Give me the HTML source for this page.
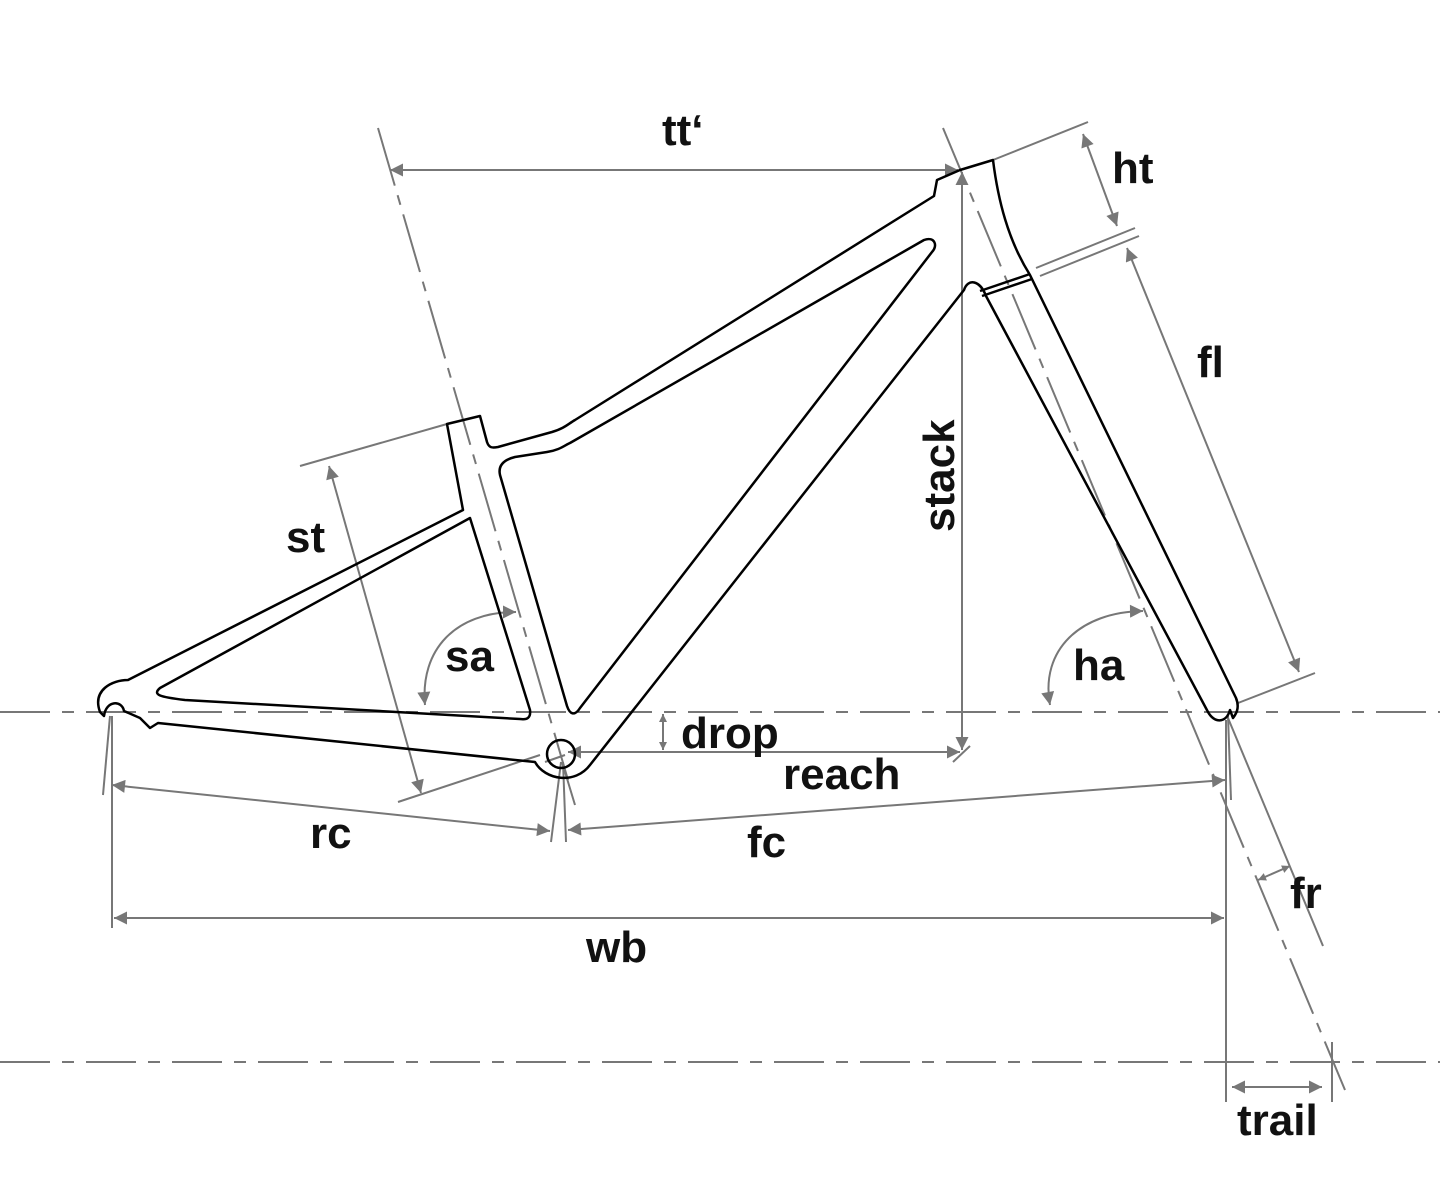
<!DOCTYPE html>
<html><head><style>
html,body{margin:0;padding:0;background:#fff;}
svg{display:block;}
text{font-family:"Liberation Sans",sans-serif;font-weight:bold;font-size:44px;fill:#111;}
</style></head><body>
<svg width="1440" height="1200" viewBox="0 0 1440 1200" xmlns="http://www.w3.org/2000/svg">
<defs>
<marker id="a" viewBox="0 0 10 10" refX="10" refY="5" markerWidth="10" markerHeight="8" orient="auto-start-reverse" markerUnits="userSpaceOnUse"><path d="M0,0 L10,5 L0,10 Z" fill="#777"/></marker>
<marker id="b" viewBox="0 0 10 10" refX="10" refY="5" markerWidth="20" markerHeight="13" orient="auto-start-reverse" markerUnits="userSpaceOnUse"><path d="M0,0 L10,5 L0,10 Z" fill="#777"/></marker>
</defs>
<g stroke="#777" stroke-width="2" fill="none">
<line x1="0" y1="712" x2="1440" y2="712" stroke-dasharray="50,12,12,12"/>
<line x1="0" y1="1062" x2="1440" y2="1062" stroke-dasharray="50,12,12,12"/>
<line x1="378" y1="128" x2="568" y2="780" stroke-dasharray="60,10,10,10"/>
<line x1="943" y1="128" x2="1345" y2="1090" stroke-dasharray="60,10,10,10"/>
<line x1="390" y1="170" x2="958" y2="170" marker-start="url(#b)" marker-end="url(#b)"/>
<line x1="962" y1="172" x2="962" y2="750" marker-start="url(#b)" marker-end="url(#b)"/>
<line x1="568" y1="752" x2="960" y2="752" marker-start="url(#b)" marker-end="url(#b)"/>
<line x1="953" y1="762" x2="970" y2="746"/>
<line x1="663" y1="714" x2="663" y2="750" marker-start="url(#a)" marker-end="url(#a)"/>
<line x1="993" y1="160" x2="1088" y2="122"/>
<line x1="1036" y1="268" x2="1135" y2="228"/>
<line x1="1040" y1="276" x2="1139" y2="236"/>
<line x1="1083" y1="134" x2="1117" y2="226" marker-start="url(#b)" marker-end="url(#b)"/>
<line x1="1127" y1="248" x2="1299" y2="672" marker-start="url(#b)" marker-end="url(#b)"/>
<line x1="1238" y1="703" x2="1315" y2="673"/>
<line x1="300" y1="466" x2="447" y2="424"/>
<line x1="398" y1="802" x2="540" y2="755"/>
<line x1="329" y1="466" x2="421" y2="793" marker-start="url(#b)" marker-end="url(#b)"/>
<path d="M516 612 C455 612 420 650 425 705" marker-start="url(#b)" marker-end="url(#b)"/>
<path d="M1143 611 C1080 612 1040 650 1050 705" marker-start="url(#b)" marker-end="url(#b)"/>
<line x1="110" y1="716" x2="103" y2="795"/>
<line x1="112" y1="716" x2="112" y2="928"/>
<line x1="561" y1="762" x2="551" y2="842"/>
<line x1="563" y1="762" x2="566" y2="842"/>
<line x1="562" y1="762" x2="575" y2="805"/>
<line x1="112" y1="785" x2="550" y2="831" marker-start="url(#b)" marker-end="url(#b)"/>
<line x1="568" y1="830" x2="1225" y2="780" marker-start="url(#b)" marker-end="url(#b)"/>
<line x1="114" y1="918" x2="1224" y2="918" marker-start="url(#b)" marker-end="url(#b)"/>
<line x1="1226" y1="720" x2="1226" y2="1102"/>
<line x1="1228" y1="716" x2="1231" y2="800"/>
<line x1="1228" y1="718" x2="1323" y2="946"/>
<line x1="1258" y1="880" x2="1290" y2="866" marker-start="url(#a)" marker-end="url(#a)"/>
<line x1="1332" y1="1042" x2="1332" y2="1102"/>
<line x1="1232" y1="1087" x2="1322" y2="1087" marker-start="url(#b)" marker-end="url(#b)"/>
<line x1="545" y1="762" x2="565" y2="755"/>
</g>
<g stroke="#000" stroke-width="2.5" fill="none" stroke-linejoin="round">
<path d="M100 712 C92 690 112 680 128 680 L463 510 L447 424 L480 416 L487 442 C489 448 492 448 498 447 L552 432 C565 428 568 424 575 420 L934 196 L937 180 L960 170 L993 160 C998 200 1008 240 1030 275 L1236 698 C1240 708 1236 714 1233 718 L1230 710 C1226 724 1214 723 1208 712 L986 296 C980 280 968 278 964 290 L590 765 C575 785 545 780 535 762 L158 723 L150 728 L140 718 L124 711 C122 700 106 700 104 716 Z"/>
<path d="M160 688 L470 518 L530 710 C531 718 527 720 520 719 L185 700 C160 697 152 695 160 688 Z"/>
<path d="M500 475 C498 466 503 460 515 457 L547 452 C560 450 565 445 570 443 L924 240 C935 236 938 246 932 252 L580 708 C575 716 570 715 567 706 Z"/>
<circle cx="561" cy="754" r="14"/>
<line x1="980" y1="291" x2="1030" y2="274"/>
<line x1="982" y1="296" x2="1032" y2="279"/>
</g>
<text x="662" y="145">tt‘</text>
<text x="1112" y="183">ht</text>
<text x="1197" y="377">fl</text>
<text x="286" y="552">st</text>
<text x="445" y="671">sa</text>
<text x="1073" y="680">ha</text>
<text x="681" y="748">drop</text>
<text x="783" y="789">reach</text>
<text x="310" y="848">rc</text>
<text x="747" y="857">fc</text>
<text x="586" y="962">wb</text>
<text x="1290" y="908">fr</text>
<text x="1237" y="1135">trail</text>
<text transform="translate(954,532) rotate(-90)">stack</text>
</svg>
</body></html>
